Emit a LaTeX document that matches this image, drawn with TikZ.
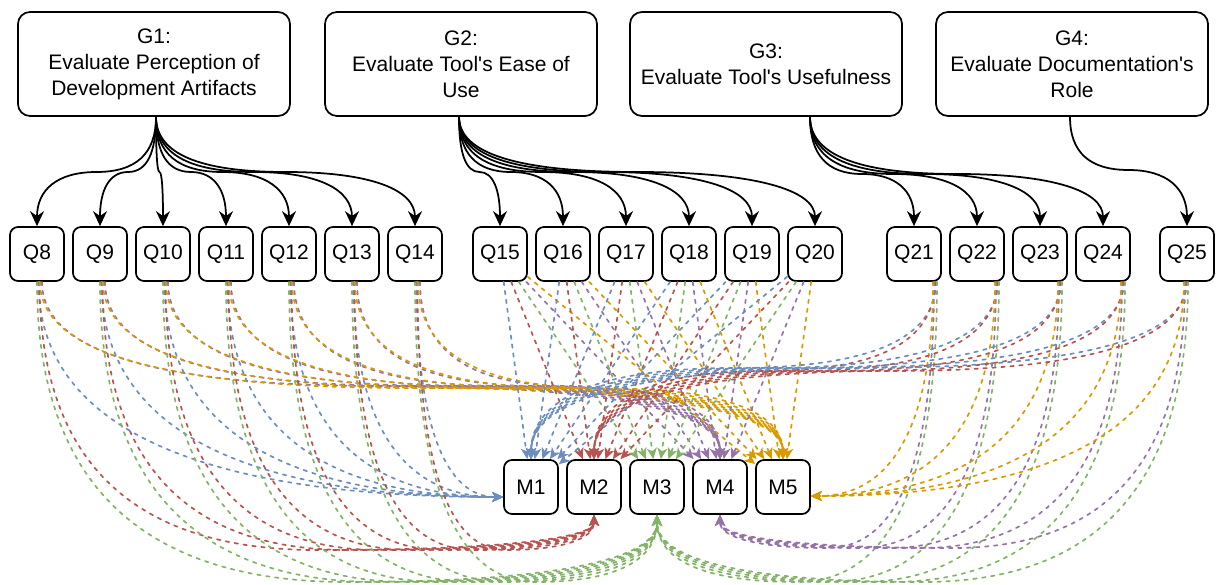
\documentclass[tikz,border=0pt]{standalone}
\usepackage{fontspec}
\newfontfamily\drawiofont{Liberation Sans}
\usetikzlibrary{arrows.meta,calc}
\definecolor{blueM}{HTML}{6C8EBF}
\definecolor{redM}{HTML}{B85450}
\definecolor{greenM}{HTML}{82B366}
\definecolor{purpleM}{HTML}{9673A6}
\definecolor{orangeM}{HTML}{D79B00}
\begin{document}
\begin{tikzpicture}[line join=round, line cap=round, x=1pt, y=1pt]
	\tikzset{
		Goal-box/.style={draw, line width=1.75pt, rounded corners=12pt, minimum width=272pt, minimum height=104pt, align=center, fill=white,
			font=\drawiofont\fontsize{21pt}{26pt}\selectfont},
		Small-box/.style={draw, line width=1.75pt, rounded corners=8pt, minimum size=54pt, inner sep=0pt, fill=white,
			font=\drawiofont\fontsize{21pt}{26pt}\selectfont},
		Goal-arrow/.style={line width=1.75pt, -{Stealth[length=15pt,width=14pt,inset=5pt]}},
		Link/.style={line width=1.7pt, dash pattern=on 3.5pt off 5.5pt, -{Stealth[length=11pt,width=10pt,inset=3pt]}},
		Lane/.style={to path={let \p1=(\tikztostart), \p2=(\tikztotarget) in
				.. controls (\x1,{\y1+2/3*(#1-\y1)}) and ({5/6*\x1+\x2/6},#1) .. ({(\x1+\x2)/2},#1)
				.. controls ({\x1/6+5/6*\x2},#1) and (\x2,{\y2+2/3*(#1-\y2)}) .. (\tikztotarget)}},
		Elbow/.style={to path={let \p1=(\tikztostart), \p2=(\tikztotarget) in
				.. controls (\x1,{\y1+2/3*(\y2-\y1)}) and ({\x2/3+2/3*\x1},\y2) .. (\tikztotarget)}}
	}
	\useasboundingbox (0,0) rectangle (1218,-585);
	\node[Goal-box] (g1) at (154,-64) {G1:\\Evaluate Perception of\\Development Artifacts};
	\node[Goal-box] (g2) at (461,-64) {G2:\\Evaluate Tool's Ease of\\Use};
	\node[Goal-box] (g3) at (766,-64) {G3:\\Evaluate Tool's Usefulness};
	\node[Goal-box] (g4) at (1072,-64) {G4:\\Evaluate Documentation's\\Role};
	\foreach \i in {8,...,25}{
		\pgfmathsetmacro{\xq}{\i<15 ? 37+63*(\i-8) : (\i<21 ? 500+63*(\i-15) : (\i<25 ? 914+63*(\i-21) : 1187))}
		\node[Small-box] (q\i) at (\xq,-254) {Q\i};
	}
	\foreach \j in {1,...,5}
		\node[Small-box] (m\j) at ({468+63*\j},-487) {M\j};
	
	\foreach \i in {8,...,14}
		\draw[Goal-arrow] ([xshift=2pt]g1.south) to[Lane=-172pt] (q\i.north);
	\foreach \i in {15,...,20}
		\draw[Goal-arrow] ([xshift=-2pt]g2.south) to[Lane=-172pt] (q\i.north);
	\foreach \i in {21,...,24}
		\draw[Goal-arrow] ([xshift=44pt]g3.south) to[Lane=-174pt] (q\i.north);
	\draw[Goal-arrow] ([xshift=-2pt]g4.south) to[Lane=-170pt] (q25.north);
	
	\foreach \i in {8,...,14}{
		\draw[Link,blueM] ([xshift=1.5pt]q\i.south) to[Elbow] ([yshift=-10pt]m1.west);
		\draw[Link,redM] ([xshift=2.5pt]q\i.south) to[Lane=-550pt] (m2.south);
		\draw[Link,greenM] (q\i.south) to[Lane=-582pt] (m3.south);
		\draw[Link,purpleM] ([xshift=5pt]q\i.south) to[Lane=-386pt] (m4.north);
		\draw[Link,orangeM] ([xshift=3pt]q\i.south) to[Lane=-388pt] (m5.north);
	}
	\foreach \i in {15,...,20}
		\foreach \j/\c in {1/blueM,2/redM,3/greenM,4/purpleM,5/orangeM}
			\draw[Link,\c] (q\i) -- (m\j);
	\foreach \i/\dx in {21/22,22/21,23/21,24/21,25/0}{
		\draw[Link,blueM] ([xshift=\dx pt]q\i.south) to[Lane=-368pt] (m1.north);
		\draw[Link,redM] ([xshift=\dx pt-1pt]q\i.south) to[Lane=-371pt] (m2.north);
		\draw[Link,greenM] ([xshift=\dx pt+1pt]q\i.south) to[Lane=-582pt] (m3.south);
		\draw[Link,purpleM] ([xshift=\dx pt-2pt]q\i.south) to[Lane=-548pt] (m4.south);
		\draw[Link,orangeM] ([xshift=\dx pt-3pt]q\i.south) to[Elbow] ([yshift=-9pt]m5.east);
	}
\end{tikzpicture}
\end{document}
